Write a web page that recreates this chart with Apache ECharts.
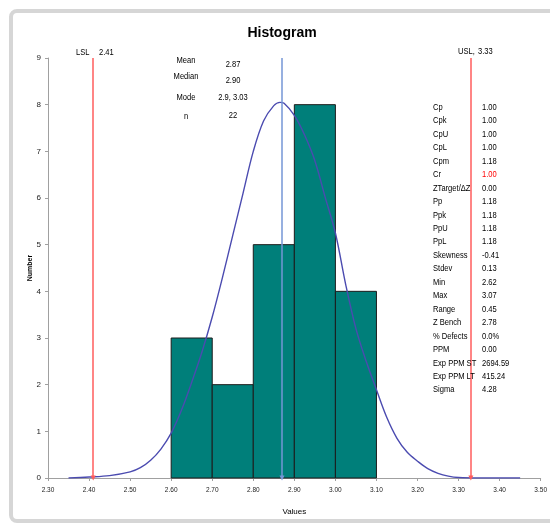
<!DOCTYPE html>
<html><head><meta charset="utf-8">
<script src="https://cdn.jsdelivr.net/npm/echarts@6/dist/echarts.min.js"></script>
<style>html,body{margin:0;padding:0;background:#fff}#c{width:550px;height:527px}</style>
</head><body><div id="c"></div>
<script>
// ---- data ----
const binEdges = [[2.60,2.70],[2.70,2.80],[2.80,2.90],[2.90,3.00],[3.00,3.10]];
const binCounts = [3,2,5,8,4];
const curveX = [2.35,2.40,2.45,2.50,2.525,2.55,2.575,2.60,2.625,2.65,2.675,2.70,2.725,2.75,2.775,2.80,2.825,2.85,2.865,2.875,2.90,2.925,2.95,2.975,3.00,3.025,3.05,3.075,3.10,3.125,3.15,3.175,3.20,3.225,3.25,3.275,3.30,3.35,3.40,3.45];
const curveY = [0,0.02,0.05,0.13,0.22,0.38,0.62,0.96,1.45,2.05,2.7,3.45,4.3,5.2,6.1,7.0,7.65,7.98,8.05,8.03,7.77,7.35,6.8,6.02,5.25,4.15,3.2,2.5,1.89,1.3,0.85,0.55,0.36,0.2,0.1,0.04,0.01,0,0,0];
const LSL = 2.41, USL = 3.33, MEAN = 2.87;
const xTicks = {min:2.3, max:3.5, interval:0.1};
const yTicks = {min:0, max:9, interval:1};
const leftLabels = ['Mean','Median','Mode','n'];
const leftValues = ['2.87','2.90','2.9, 3.03','22'];
const rightLabels = ['Cp','Cpk','CpU','CpL','Cpm','Cr','ZTarget/ΔZ','Pp','Ppk','PpU','PpL','Skewness','Stdev','Min','Max','Range','Z Bench','% Defects','PPM','Exp PPM ST','Exp PPM LT','Sigma'];
const rightValues = ['1.00','1.00','1.00','1.00','1.18','1.00','0.00','1.18','1.18','1.18','1.18','-0.41','0.13','2.62','3.07','0.45','2.78','0.0%','0.00','2694.59','415.24','4.28'];

const FONT = '"Liberation Sans",sans-serif';
const SX = 0.84;
const chart = echarts.init(document.getElementById('c'));

const bars = binEdges.map((e,i)=>[e[0],e[1],binCounts[i]]);
const curve = curveX.map((x,i)=>[x,curveY[i]]);

function txt(x, y, t, opts){
  opts = opts || {};
  return {type:'text', x:x, y:y, scaleX:SX, z:20,
    style:{text:t, font:(opts.font||'9px '+FONT), fill:(opts.fill||'#000'),
      align:(opts.align||'left'), verticalAlign:'middle'}};
}

const graphics = [
  {type:'rect', shape:{x:11,y:11,width:546,height:510,r:6}, style:{fill:'none',stroke:'#d6d6d6',lineWidth:4}, z:-10},
  {type:'text', x:282, y:33, style:{text:'Histogram', font:'bold 14px "Liberation Sans",sans-serif', fill:'#000', align:'center', verticalAlign:'middle'}},
  txt(76, 53, 'LSL'),
  txt(99, 53, '2.41'),
  txt(458, 52, 'USL,'),
  txt(478, 52, '3.33')
];
const leftLY = [61,77,98,117], leftVY = [65,81,98,116];
leftLabels.forEach((t,i)=>{
  graphics.push(txt(186, leftLY[i], t, {align:'center'}));
  graphics.push(txt(233, leftVY[i], leftValues[i], {align:'center'}));
});
rightLabels.forEach((t,i)=>{
  const y = 107.5 + i*13.45;
  graphics.push(txt(433, y, t));
  graphics.push(txt(482, y, rightValues[i], {fill: t==='Cr' ? '#ff0000' : '#000'}));
});

function vline(v, color){
  return {
    type:'line', data:[], silent:true, z:5,
    markLine:{
      silent:true, symbol:['none','triangle'], symbolSize:[5,5], animation:false,
      label:{show:false},
      lineStyle:{color:color, width:1.5, type:'solid'},
      data:[[{coord:[v,yTicks.max]},{coord:[v,0]}]]
    }
  };
}

chart.setOption({
  animation:false,
  grid:{left:48, right:7, top:58, bottom:49},
  graphic:graphics,
  xAxis:{
    type:'value', min:xTicks.min, max:xTicks.max, interval:xTicks.interval,
    name:'Values', nameLocation:'middle', nameGap:30, nameMoveOverlap:false,
    nameTextStyle:{fontFamily:FONT, fontSize:8, color:'#000'},
    axisLine:{lineStyle:{color:'#a0a0a0'}},
    axisTick:{show:true, length:3, lineStyle:{color:'#a0a0a0'}},
    axisLabel:{fontFamily:FONT, fontSize:6.5, color:'#222', margin:9, formatter:v=>v.toFixed(2)},
    splitLine:{show:false}
  },
  yAxis:{
    type:'value', min:yTicks.min, max:yTicks.max, interval:yTicks.interval,
    name:'Number', nameLocation:'middle', nameGap:14, nameRotate:90, nameMoveOverlap:false,
    nameTextStyle:{fontFamily:FONT, fontSize:7, fontWeight:'bold', color:'#000'},
    axisLine:{show:true, lineStyle:{color:'#a0a0a0'}},
    axisTick:{show:true, length:3, lineStyle:{color:'#a0a0a0'}},
    axisLabel:{fontFamily:FONT, fontSize:8, color:'#222', margin:7},
    splitLine:{show:false}
  },
  series:[
    {
      type:'custom', data:bars, z:2,
      renderItem:(params, api)=>{
        const p0 = api.coord([api.value(0), api.value(2)]);
        const p1 = api.coord([api.value(1), 0]);
        return {type:'rect', shape:{x:p0[0], y:p0[1], width:p1[0]-p0[0], height:p1[1]-p0[1]},
          style:{fill:'#007f7a', stroke:'#1c1c1c', lineWidth:1}};
      },
      encode:{x:[0,1], y:2}
    },
    {
      type:'line', data:curve, smooth:0.35, showSymbol:false, z:4,
      lineStyle:{color:'#4b4bb0', width:1.4}
    },
    vline(LSL,'#ff5c5c'),
    vline(USL,'#ff5c5c'),
    vline(MEAN,'#7596d6')
  ]
});
</script></body></html>
